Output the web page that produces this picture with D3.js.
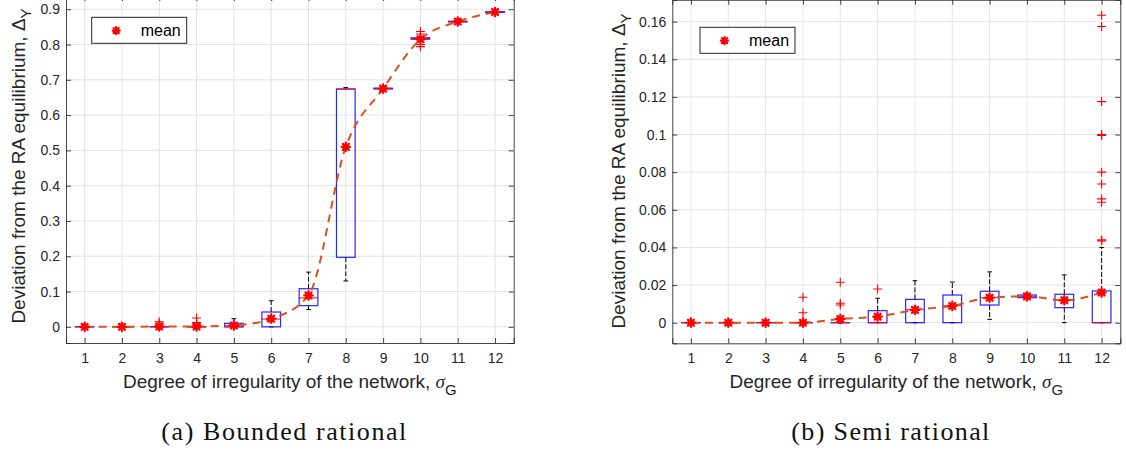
<!DOCTYPE html>
<html>
<head>
<meta charset="utf-8">
<script src="https://cdn.jsdelivr.net/npm/d3@7"></script>
<style>
  body { margin: 0; background: #fff; }
  svg { display: block; }
</style>
</head>
<body>
<svg id="chart" width="1126" height="450"></svg>
<script>
// categories on the x axis (sigma_G)
const degrees = [1, 2, 3, 4, 5, 6, 7, 8, 9, 10, 11, 12];

// (a) bounded rational
const boundedMean = [0, 0, 0.001, 0.001, 0.004, 0.023, 0.089, 0.51, 0.675, 0.815, 0.865, 0.892];
const boundedQ1 = [0, 0, 0, 0, 0, 0, 0.06, 0.197, 0.674, 0.815, 0.864, 0.891];
const boundedMedian = [0, 0, 0, 0, 0, 0.022, 0.082, 0.674, 0.676, 0.8175, 0.865, 0.892];
const boundedQ3 = [0, 0, 0, 0, 0.01, 0.042, 0.108, 0.674, 0.676, 0.819, 0.866, 0.893];
const boundedLow = [0, 0, 0, 0, 0, 0, 0.049, 0.13, 0.674, 0.815, 0.864, 0.891];
const boundedHigh = [0, 0, 0, 0, 0.023, 0.074, 0.155, 0.678, 0.676, 0.82, 0.866, 0.893];
const boundedOutliers = [[], [], [0.008, 0.014], [0.006, 0.012, 0.025], [], [], [], [], [], [0.794, 0.8, 0.83, 0.837], [], []];
const boundedTicks = [0, 0.1, 0.2, 0.3, 0.4, 0.5, 0.6, 0.7, 0.8, 0.9];

// (b) semi rational
const semiMean = [0, 0, 0, 0, 0.002, 0.0032, 0.0068, 0.0089, 0.0133, 0.014, 0.0119, 0.016];
const semiQ1 = [0, 0, 0, 0, 0, 0, 0, 0, 0.0094, 0.0133, 0.008, 0];
const semiMedian = [0, 0, 0, 0, 0, 0, 0.007, 0.009, 0.0133, 0.014, 0.012, 0];
const semiQ3 = [0, 0, 0, 0, 0, 0.0064, 0.0124, 0.0147, 0.0167, 0.0147, 0.0151, 0.0169];
const semiLow = [0, 0, 0, 0, 0, 0, 0, 0, 0.0018, 0.0133, 0, 0];
const semiHigh = [0, 0, 0, 0, 0, 0.013, 0.0223, 0.0216, 0.027, 0.0147, 0.0254, 0.04];
const semiOutliers = [[], [], [], [0.0053, 0.0135], [0.0094, 0.0103, 0.0215], [0.0179], [], [], [], [], [],
    [0.0435, 0.044, 0.064, 0.0658, 0.0737, 0.08, 0.0995, 0.1, 0.1175, 0.1574, 0.1634]];
const semiTicks = [0, 0.02, 0.04, 0.06, 0.08, 0.1, 0.12, 0.14, 0.16];

const svg = d3.select("#chart");
const axisColor = "#262626";

function panel(opts) {
    const g = svg.append("g");

    const x = d3.scaleLinear().domain([0.5, 12.5]).range([opts.left, opts.right]);
    const y = d3.scaleLinear().domain(opts.yDomain).range([opts.bottom, opts.top]);

    // grille
    g.append("g").selectAll("line.gx")
        .data(degrees).enter().append("line")
        .attr("x1", d => x(d)).attr("x2", d => x(d))
        .attr("y1", opts.top).attr("y2", opts.bottom)
        .attr("stroke", "#e3e3e3");
    g.append("g").selectAll("line.gy")
        .data(opts.ticks).enter().append("line")
        .attr("x1", opts.left).attr("x2", opts.right)
        .attr("y1", d => y(d)).attr("y2", d => y(d))
        .attr("stroke", "#e3e3e3");

    const rows = degrees.map((d, i) => ({
        x: d, mean: opts.mean[i], q1: opts.q1[i], med: opts.median[i], q3: opts.q3[i],
        lo: opts.low[i], hi: opts.high[i], out: opts.outliers[i]
    }));

    const boxW = x(1.25) - x(1);
    const capW = boxW / 2;

    // whiskers (dashed) + caps
    const wg = g.append("g");
    wg.selectAll("line.wl").data(rows).enter().append("line")
        .attr("x1", d => x(d.x)).attr("x2", d => x(d.x))
        .attr("y1", d => y(d.q1)).attr("y2", d => y(d.lo))
        .attr("stroke", "#000").attr("stroke-dasharray", "5,2");
    wg.selectAll("line.wh").data(rows).enter().append("line")
        .attr("x1", d => x(d.x)).attr("x2", d => x(d.x))
        .attr("y1", d => y(d.q3)).attr("y2", d => y(d.hi))
        .attr("stroke", "#000").attr("stroke-dasharray", "5,2");
    wg.selectAll("line.cl").data(rows).enter().append("line")
        .attr("x1", d => x(d.x) - capW / 2).attr("x2", d => x(d.x) + capW / 2)
        .attr("y1", d => y(d.lo)).attr("y2", d => y(d.lo))
        .attr("stroke", "#000");
    wg.selectAll("line.ch").data(rows).enter().append("line")
        .attr("x1", d => x(d.x) - capW / 2).attr("x2", d => x(d.x) + capW / 2)
        .attr("y1", d => y(d.hi)).attr("y2", d => y(d.hi))
        .attr("stroke", "#000");

    // boxes
    g.append("g").selectAll("rect").data(rows).enter().append("rect")
        .attr("x", d => x(d.x) - boxW)
        .attr("y", d => y(d.q3))
        .attr("width", boxW * 2)
        .attr("height", d => Math.max(y(d.q1) - y(d.q3), 0.01))
        .attr("fill", "none").attr("stroke", "#0000ff").attr("stroke-width", 1.2)
        .attr("stroke-opacity", 0.85);

    // medians
    g.append("g").selectAll("line").data(rows).enter().append("line")
        .attr("x1", d => x(d.x) - boxW).attr("x2", d => x(d.x) + boxW)
        .attr("y1", d => y(d.med)).attr("y2", d => y(d.med))
        .attr("stroke", "#ff0000").attr("stroke-width", 1.2).attr("stroke-opacity", 0.8);

    // outliers '+'
    const outs = [];
    rows.forEach(r => r.out.forEach(v => outs.push({ x: r.x, v: v })));
    const og = g.append("g").attr("stroke", "#ff0000").attr("stroke-width", 1.1);
    og.selectAll("path").data(outs).enter().append("path")
        .attr("d", d => {
            const px = x(d.x), py = y(d.v);
            return `M${px - 4.5},${py}H${px + 4.5}M${px},${py - 4.5}V${py + 4.5}`;
        });

    // mean line
    const line = d3.line().x(d => x(d.x)).y(d => y(d.mean)).curve(d3.curveMonotoneX);
    g.append("path").datum(rows)
        .attr("d", line)
        .attr("fill", "none").attr("stroke", "#D95319")
        .attr("stroke-width", 2).attr("stroke-dasharray", "8,6");

    // mean markers
    g.append("g").selectAll("path").data(rows).enter().append("path")
        .attr("d", d => star(x(d.x), y(d.mean), 4.2))
        .attr("stroke", "#ff0000").attr("stroke-width", 2.3)
        .attr("stroke-linecap", "round").attr("fill", "none");

    // axes: ticks pointing inward on all four sides
    const fmt = d => String(+d.toFixed(3));
    const ax = g.append("g").attr("transform", `translate(0,${opts.bottom})`)
        .call(d3.axisBottom(x).tickValues(degrees).tickSize(-5).tickPadding(10));
    const ay = g.append("g").attr("transform", `translate(${opts.left},0)`)
        .call(d3.axisLeft(y).tickValues(opts.ticks).tickFormat(fmt).tickSize(-5).tickPadding(6));
    const axt = g.append("g").attr("transform", `translate(0,${opts.top})`)
        .call(d3.axisTop(x).tickValues(degrees).tickSize(-5).tickFormat(""));
    const ayr = g.append("g").attr("transform", `translate(${opts.right},0)`)
        .call(d3.axisRight(y).tickValues(opts.ticks).tickSize(-5).tickFormat(""));
    [ax, ay, axt, ayr].forEach(a => {
        a.selectAll("path, line").attr("stroke", axisColor).attr("stroke-opacity", 0.85);
        a.selectAll("text").attr("fill", axisColor)
            .style("font-family", "'Liberation Sans', Arial, sans-serif").style("font-size", "14px");
    });

    // x label
    const xl = g.append("text")
        .attr("x", (opts.left + opts.right) / 2).attr("y", opts.bottom + 45)
        .attr("text-anchor", "middle").attr("fill", axisColor)
        .style("font-family", "'Liberation Sans', Arial, sans-serif").style("font-size", "19px");
    xl.append("tspan").text("Degree of irregularity of the network, ");
    xl.append("tspan").text("σ").style("font-family", "'Liberation Serif', serif").style("font-style", "italic");
    xl.append("tspan").text("G").attr("dy", 7).style("font-size", "15px");

    // y label
    const yl = g.append("text")
        .attr("transform", `translate(${opts.ylabelX},${opts.ylabelY}) rotate(-90)`)
        .attr("text-anchor", "middle").attr("fill", axisColor)
        .style("font-family", "'Liberation Sans', Arial, sans-serif").style("font-size", "19px");
    yl.append("tspan").text("Deviation from the RA equilibrium, ");
    yl.append("tspan").text("Δ");
    yl.append("tspan").text("Y").attr("dy", 6).style("font-size", "15px");

    // legend
    const lg = g.append("g").attr("transform", `translate(${opts.legend[0]},${opts.legend[1]})`);
    lg.append("rect").attr("width", 95).attr("height", 26)
        .attr("fill", "#fff").attr("stroke", axisColor).attr("stroke-width", 1);
    lg.append("path").attr("d", star(24.5, 13.3, 3.6))
        .attr("stroke", "#ff0000").attr("stroke-width", 2.2)
        .attr("stroke-linecap", "round").attr("fill", "none");
    lg.append("text").attr("x", 49).attr("y", 19).text("mean")
        .attr("fill", "#000")
        .style("font-family", "'Liberation Sans', Arial, sans-serif").style("font-size", "16px");

    // caption
    svg.append("text")
        .attr("x", (opts.left + opts.right) / 2 - 6).attr("y", 440)
        .attr("text-anchor", "middle").attr("fill", "#111")
        .attr("textLength", opts.capW).attr("lengthAdjust", "spacing")
        .style("font-family", "'Liberation Serif', 'Times New Roman', serif").style("font-size", "26px")
        .text(opts.caption);
}

function star(cx, cy, r) {
    const d = r * Math.SQRT1_2;
    return `M${cx - r},${cy}H${cx + r}M${cx},${cy - r}V${cy + r}` +
        `M${cx - d},${cy - d}L${cx + d},${cy + d}M${cx - d},${cy + d}L${cx + d},${cy - d}`;
}

panel({
    left: 66, right: 513.7, top: -4, bottom: 343,
    yDomain: [-0.0458, 0.9375], ticks: boundedTicks,
    mean: boundedMean, q1: boundedQ1, median: boundedMedian, q3: boundedQ3,
    low: boundedLow, high: boundedHigh, outliers: boundedOutliers,
    ylabelX: 25, ylabelY: 166, legend: [91.7, 17.3],
    caption: "(a) Bounded rational", capW: 245
});

panel({
    left: 672.3, right: 1120.3, top: -0.2, bottom: 343.3,
    yDomain: [-0.01095, 0.1716], ticks: semiTicks,
    mean: semiMean, q1: semiQ1, median: semiMedian, q3: semiQ3,
    low: semiLow, high: semiHigh, outliers: semiOutliers,
    ylabelX: 625, ylabelY: 171, legend: [700, 27.3],
    caption: "(b) Semi rational", capW: 198
});
</script>
</body>
</html>
